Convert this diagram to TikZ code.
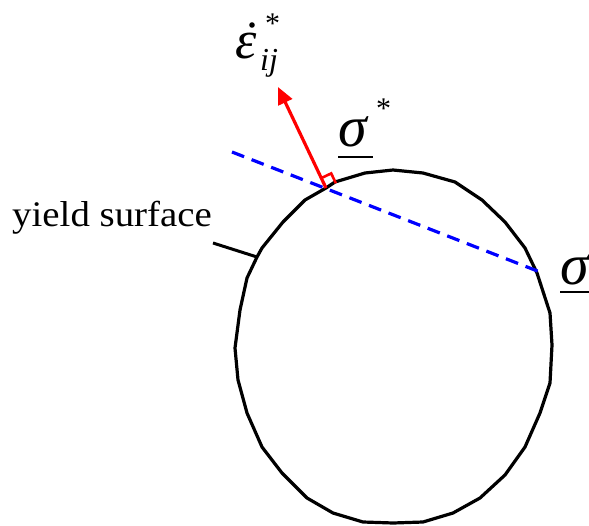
\documentclass[tikz,border=0pt]{standalone}
\usepackage{fontspec}
\setmainfont{Liberation Serif}
\usetikzlibrary{arrows.meta}
\tikzset{
  curve/.style={line width=3.2pt, line join=round},
  leader/.style={line width=3pt},
  normalarrow/.style={red, line width=3.2pt, -{Triangle[length=17pt,width=15pt]}},
  marker/.style={red, line width=2.6pt},
  dashline/.style={blue, line width=3.2pt, dash pattern=on 13pt off 8pt},
  lbl/.style={inner sep=0pt, anchor=base west},
  ubar/.style={line width=2.4pt}
}
\begin{document}
\begin{tikzpicture}[x=1pt,y=-1pt]
\useasboundingbox (0,0) rectangle (589,525);
% named points
\coordinate (P) at (326,188);
\coordinate (Q) at (257,257);
\coordinate (S) at (540,272);
\coordinate (D) at (232,152);
\coordinate (T) at (278,87);
\coordinate (L) at (213,243);
% yield surface
\draw[curve] (326,188) -- (335,182) -- (365,173) -- (393,170) -- (423,173) -- (455,182)
  -- (482,200) -- (505,222) -- (525,248) -- (537,273) -- (550,313) -- (552,345)
  -- (550,383) -- (540,413) -- (525,447) -- (505,475) -- (480,498) -- (453,513)
  -- (423,522) -- (393,523) -- (363,522) -- (333,513) -- (307,498) -- (282,473)
  -- (262,447) -- (247,413) -- (238,380) -- (235,348) -- (240,310) -- (247,278)
  -- (257,257) -- (262,248) -- (283,222) -- (305,200) -- cycle;
% dashed line
\draw[dashline] (D) -- (S);
% leader
\draw[leader] (L) -- (Q);
% normal arrow
\draw[normalarrow] (P) -- (T);
\draw[marker] (P) ++(-4.7,-9.9) -- ++(9.9,-4.7) -- ++(4.7,9.9);
% labels
\node[lbl] (ys) at (12,226) {\fontsize{36}{36}\selectfont\addfontfeatures{FakeStretch=1.08}yield surface};
\node[lbl] (eps) at (235,58) {\fontsize{54}{54}\selectfont\itshape ε};
\fill (252,25) circle (2.8pt) node[inner sep=0pt] (epsdot) {};
\node[lbl] (epsstar) at (265,33) {\fontsize{30}{30}\selectfont *};
\node[lbl] (epsij) at (260,70) {\fontsize{32}{32}\selectfont\itshape ij};
\node[lbl] (sigs) at (338,146) {\fontsize{58}{58}\selectfont\itshape σ};
\node[lbl] (sigsstar) at (376,118) {\fontsize{30}{30}\selectfont *};
\draw[ubar] (338,157) -- (373,157);
\node[lbl] (sig) at (560,284) {\fontsize{58}{58}\selectfont\itshape σ};
\draw[ubar] (560,292) -- (589,292);
\end{tikzpicture}
\end{document}
